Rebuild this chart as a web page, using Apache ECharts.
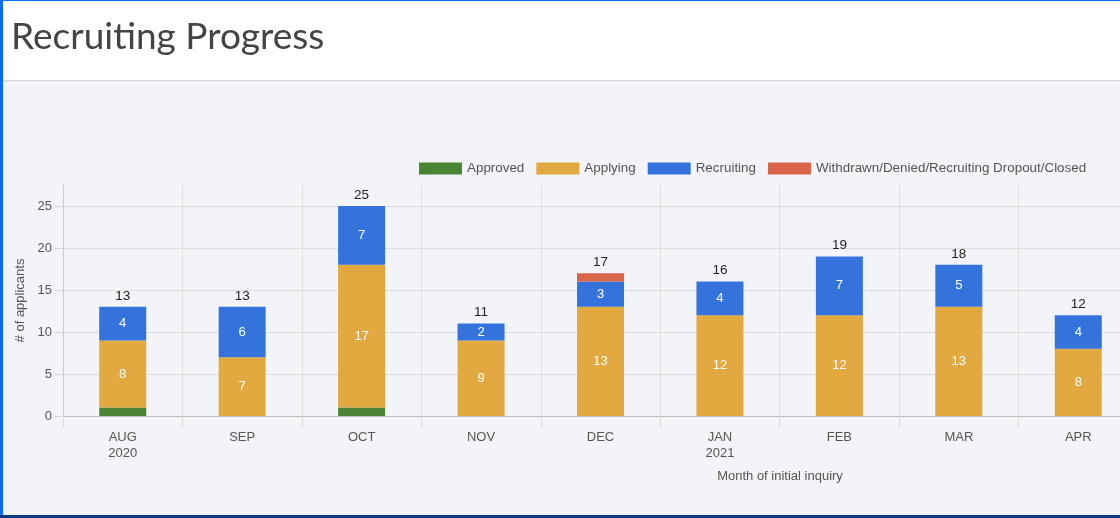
<!DOCTYPE html>
<html>
<head>
<meta charset="utf-8">
<script src="https://cdn.jsdelivr.net/npm/echarts@6/dist/echarts.min.js"></script>
<style>
  html, body { margin: 0; padding: 0; background: #f3f4f8; }
  #wrap { width: 1120px; height: 518px; overflow: hidden; position: relative; }
  #chart { width: 1160px; height: 518px; }
</style>
</head>
<body>
<div id="wrap"><div id="chart"></div></div>
<script>
// months of initial inquiry
const months = ['AUG\n2020', 'SEP', 'OCT', 'NOV', 'DEC', 'JAN\n2021', 'FEB', 'MAR', 'APR'];
const approved = [1, 0, 1, 0, 0, 0, 0, 0, 0];
const applying = [8, 7, 17, 9, 13, 12, 12, 13, 8];
const recruiting = [4, 6, 7, 2, 3, 4, 7, 5, 4];
const withdrawn = [0, 0, 0, 0, 1, 0, 0, 0, 0];
const totals = [13, 13, 25, 11, 17, 16, 19, 18, 12];
const yTicks = [0, 5, 10, 15, 20, 25];

const font = '"Liberation Sans", Arial, sans-serif';

const chart = echarts.init(document.getElementById('chart'));

function seg(name, data, color) {
  return {
    name: name,
    type: 'bar',
    stack: 'all',
    barWidth: 47,
    barGap: '-100%',
    data: data,
    itemStyle: { color: color },
    label: {
      show: true,
      position: 'inside',
      color: '#fff',
      fontSize: 13,
      fontFamily: font,
      // 1-person segments are too thin for a label
      formatter: p => (p.value >= 2 ? p.value : '')
    }
  };
}

const option = {
  backgroundColor: '#f3f4f8',
  animation: false,
  title: {
    text: 'Recruiting Progress',
    left: 6,
    top: 14,
    textStyle: { fontFamily: 'Lato', fontSize: 37, fontWeight: 'normal', color: '#444' }
  },
  legend: {
    data: ['Approved', 'Applying', 'Recruiting', 'Withdrawn/Denied/Recruiting Dropout/Closed'],
    icon: 'rect',
    left: 414,
    top: 157,
    itemWidth: 43,
    itemHeight: 12,
    itemGap: 12,
    textStyle: { fontFamily: font, fontSize: 13.4, color: '#555' }
  },
  grid: { left: 63, right: 22, top: 185, bottom: 102 },
  xAxis: {
    type: 'category',
    data: months,
    axisLine: { lineStyle: { color: '#bbb' } },
    axisTick: { show: true, length: 11, lineStyle: { color: '#dadada' } },
    splitLine: { show: true, lineStyle: { color: '#dfdfdf' } },
    axisLabel: { fontFamily: font, fontSize: 13, color: '#555', margin: 13, lineHeight: 16 }
  },
  yAxis: {
    type: 'value',
    min: 0,
    max: 27.5,
    interval: 5,
    name: '# of applicants',
    nameLocation: 'middle',
    nameGap: 35,
    nameTextStyle: { fontFamily: font, fontSize: 13, color: '#555' },
    axisLine: { show: true, lineStyle: { color: '#ccc' } },
    axisTick: { show: true, length: 8, customValues: yTicks, lineStyle: { color: '#d6d6d6' } },
    axisLabel: {
      customValues: yTicks,
      fontFamily: font, fontSize: 13, color: '#555', margin: 11,
      formatter: v => (v % 5 === 0 ? v : '')
    },
    splitLine: {
      lineStyle: { color: ['#dedede', '#dedede', '#dedede', '#dedede', '#dedede', '#dedede', 'rgba(0,0,0,0)'] }
    }
  },
  series: [
    seg('Approved', approved, '#4a8434'),
    seg('Applying', applying, '#e1a93f'),
    seg('Recruiting', recruiting, '#3573dc'),
    seg('Withdrawn/Denied/Recruiting Dropout/Closed', withdrawn, '#d9654a'),
    {
      name: 'Total',
      type: 'bar',
      barWidth: 47,
      barGap: '-100%',
      data: totals,
      z: 1,
      itemStyle: { color: 'rgba(0,0,0,0)' },
      label: {
        show: true,
        position: 'top',
        distance: 4,
        color: '#222',
        fontSize: 13.5,
        fontWeight: 500,
        fontFamily: font
      }
    }
  ],
  graphic: [
    // white header strip with separator
    { type: 'rect', z: -1, shape: { x: 0, y: 0, width: 1160, height: 80 }, style: { fill: '#fff' } },
    { type: 'rect', z: -1, shape: { x: 0, y: 80, width: 1160, height: 1.5 }, style: { fill: '#d9d9d9' } },
    {
      type: 'text', x: 780, y: 476,
      style: {
        text: 'Month of initial inquiry', align: 'center', verticalAlign: 'middle',
        font: '13px ' + font, fill: '#555'
      }
    },
    // page frame
    { type: 'rect', z: 100, shape: { x: 0, y: 0, width: 1160, height: 1 }, style: { fill: '#0a6cff' } },
    { type: 'rect', z: 100, shape: { x: 0, y: 0, width: 3, height: 518 }, style: { fill: '#0a6cff' } },
    { type: 'rect', z: 100, shape: { x: 0, y: 515, width: 1160, height: 3 }, style: { fill: '#0c3a84' } }
  ]
};

chart.setOption(option);
</script>
</body>
</html>
